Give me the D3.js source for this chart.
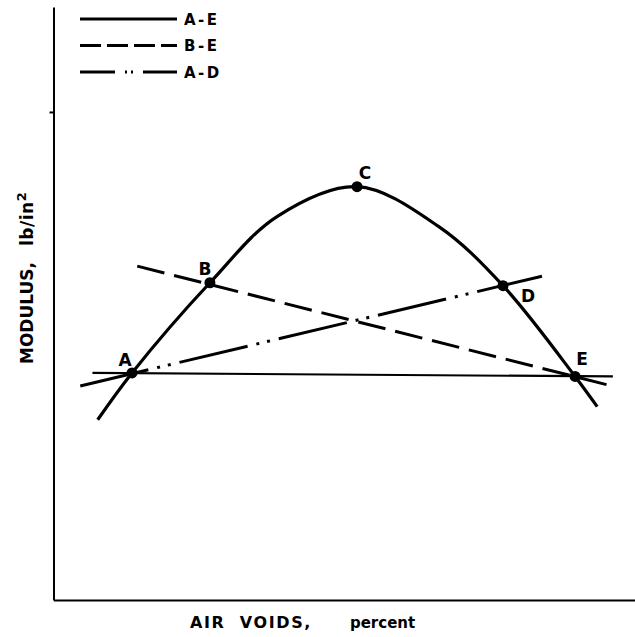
<!DOCTYPE html>
<html>
<head>
<meta charset="utf-8">
<script src="https://cdn.jsdelivr.net/npm/d3@7"></script>
<style>
  body { margin: 0; background: #fff; }
  text { font-family: "DejaVu Sans", sans-serif; font-weight: bold; fill: #000; }
</style>
</head>
<body>
<svg id="chart"></svg>
<script>
// Data (axis units 0-100, no numeric scale shown on the original) ----------
const pointNames = ["A", "B", "C", "D", "E"];
const pointX = [13.5, 26.9, 52.2, 77.3, 89.7];
const pointY = [38.3, 53.5, 69.7, 53.0, 37.7];

// the curve through A..E
const curveX = [7.6, 13.5, 26.9, 38.5, 52.2, 66.2, 77.3, 89.7, 93.5];
const curveY = [30.4, 38.3, 53.5, 64.7, 69.7, 63.0, 53.0, 37.7, 32.6];

// straight lines, start and end
const lineNames = ["A-E", "B-E", "A-D"];
const lineX = [[6.7, 96.2], [14.4, 96.4], [4.6, 84.0]];
const lineY = [[38.3, 37.7], [56.3, 36.0], [36.1, 54.6]];

const yTicks = [82.3];

const xTitle = "AIR  VOIDS,";
const xUnit = "percent";
const yTitle = "MODULUS,";
const yUnit = "lb/in";

// Styles ----------
const lineDash = { "A-E": null, "B-E": "28 10", "A-D": "70 9 3 8 3 9" };
const legendDash = { "A-E": null, "B-E": "21 6", "A-D": "35 10 2 4 2 10 35" };
const labelOffset = { A: [-7, -7], B: [-5, -8], C: [8, -8], D: [25, 16], E: [7, -11] };

const width = 635, height = 637;

const svg = d3.select("#chart")
    .attr("width", width)
    .attr("height", height);

const x = d3.scaleLinear().domain([0, 100]).range([53.5, 635]);
const y = d3.scaleLinear().domain([0, 100]).range([600, 7]);

// Axes ----------
svg.append("g")
    .attr("transform", `translate(${x(0)},0)`)
    .call(d3.axisLeft(y).tickValues(yTicks).tickSize(4).tickSizeOuter(0).tickFormat(""))
    .call(g => g.selectAll("path, line").attr("stroke", "#000").attr("stroke-width", 2));

svg.append("g")
    .attr("transform", `translate(0,${y(0)})`)
    .call(d3.axisBottom(x).tickValues([]).tickSizeOuter(0))
    .call(g => g.select("path").attr("stroke", "#000").attr("stroke-width", 2.2));

// Axis titles
const xt = svg.append("text")
    .attr("x", 190)
    .attr("y", 628)
    .style("white-space", "pre");
xt.append("tspan").attr("font-size", 16).attr("letter-spacing", 1.6).text(xTitle);
xt.append("tspan").attr("font-size", 15).attr("dx", 38).text(xUnit);

const yt = svg.append("text")
    .attr("transform", "translate(33,364) rotate(-90)")
    .style("white-space", "pre");
yt.append("tspan").attr("font-size", 17).text(yTitle);
yt.append("tspan").attr("font-size", 17).attr("dx", 16).attr("letter-spacing", 0.5).text(yUnit);
yt.append("tspan").attr("font-size", 13).attr("dy", -7).text("2");

// Straight lines ----------
const lines = lineNames.map((name, i) => ({
    name,
    pts: lineX[i].map((vx, j) => [vx, lineY[i][j]])
}));

const lineGen = d3.line().x(d => x(d[0])).y(d => y(d[1]));

svg.selectAll(".ref-line")
    .data(lines)
    .enter()
    .append("path")
    .attr("class", "ref-line")
    .attr("d", d => lineGen(d.pts))
    .attr("fill", "none")
    .attr("stroke", "#000")
    .attr("stroke-width", d => d.name === "A-E" ? 2.2 : 3)
    .attr("stroke-dasharray", d => lineDash[d.name]);

// Curve ----------
const curvePts = curveX.map((vx, i) => [vx, curveY[i]]);
svg.append("path")
    .attr("d", d3.line().x(d => x(d[0])).y(d => y(d[1])).curve(d3.curveCatmullRom.alpha(0.5))(curvePts))
    .attr("fill", "none")
    .attr("stroke", "#000")
    .attr("stroke-width", 3.2);

// Points and labels ----------
const points = pointNames.map((name, i) => ({ name, x: pointX[i], y: pointY[i] }));

svg.selectAll(".pt")
    .data(points)
    .enter()
    .append("circle")
    .attr("class", "pt")
    .attr("cx", d => x(d.x))
    .attr("cy", d => y(d.y))
    .attr("r", 5.5)
    .attr("fill", "#000");

svg.selectAll(".pt-label")
    .data(points)
    .enter()
    .append("text")
    .attr("class", "pt-label")
    .attr("x", d => x(d.x) + labelOffset[d.name][0])
    .attr("y", d => y(d.y) + labelOffset[d.name][1])
    .attr("text-anchor", "middle")
    .attr("font-size", 17)
    .text(d => d.name);

// Legend ----------
const legend = svg.append("g");
const legendRows = legend.selectAll("g")
    .data(lineNames)
    .enter()
    .append("g")
    .attr("transform", (d, i) => `translate(80,${19 + i * 26.5})`);

legendRows.append("line")
    .attr("x1", 0)
    .attr("x2", 97)
    .attr("stroke", "#000")
    .attr("stroke-width", 3.2)
    .attr("stroke-dasharray", d => legendDash[d]);

legendRows.append("text")
    .attr("x", 104)
    .attr("y", 5.5)
    .attr("font-size", 15)
    .attr("letter-spacing", 2.5)
    .text(d => d);
</script>
</body>
</html>
